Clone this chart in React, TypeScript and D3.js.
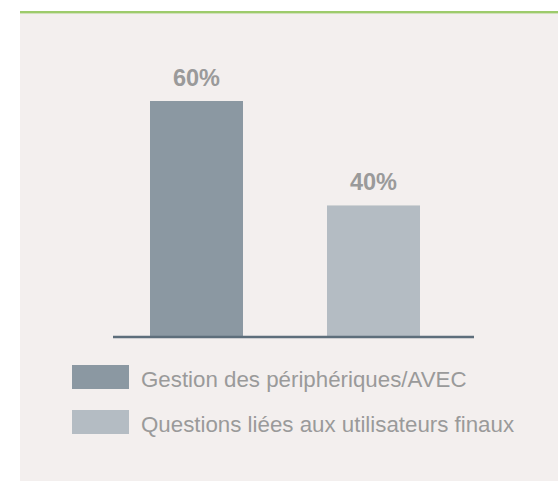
import React, { useEffect, useRef } from "react";
import { scaleBand, scaleLinear, select } from "d3";

// values
const categories = ["Gestion des périphériques/AVEC", "Questions liées aux utilisateurs finaux"];
const shares = [60, 40];
const barColors = ["#8b98a2", "#b4bcc3"];
const valueLabels = ["60%", "40%"];

const width = 558,
  height = 482;

export default function App() {
  const axisRef = useRef<SVGGElement | null>(null);

  const xScale = scaleBand<string>()
    .domain(categories)
    .range([114.6, 455.4])
    .paddingInner(0.4746)
    .paddingOuter(0.2);

  // the original axis does not start at zero
  const yScale = scaleLinear().domain([15, 60]).range([336, 101]);

  useEffect(() => {
    const g = select(axisRef.current);
    g.selectAll("*").remove();
    g.append("line")
      .attr("x1", 113)
      .attr("x2", 474)
      .attr("y1", yScale(15) + 1)
      .attr("y2", yScale(15) + 1)
      .attr("stroke", "#5d6e7b")
      .attr("stroke-width", 2.5);
  }, []);

  return (
    <svg
      width={width}
      height={height}
      style={{ position: "fixed", top: 0, left: 0, fontFamily: "'Liberation Sans', Arial, sans-serif" }}
    >
      <rect x={0} y={0} width={width} height={height} fill="#ffffff" />
      <rect x={20} y={12} width={width - 20} height={469} fill="#f3efee" />
      <rect x={20} y={11} width={width - 20} height={2.4} fill="#9dcb6b" />

      {categories.map((c, i) => (
        <g key={c}>
          <rect
            x={xScale(c)}
            y={yScale(shares[i])}
            width={xScale.bandwidth()}
            height={yScale(15) - yScale(shares[i])}
            fill={barColors[i]}
          />
          <text
            x={(xScale(c) ?? 0) + xScale.bandwidth() / 2}
            y={yScale(shares[i]) - 15}
            textAnchor="middle"
            fontSize={23.5}
            fontWeight="bold"
            fill="#9a9a9a"
          >
            {valueLabels[i]}
          </text>
        </g>
      ))}

      <g ref={axisRef} />

      {categories.map((c, i) => (
        <g key={"legend-" + c} transform={`translate(72, ${365 + i * 45})`}>
          <rect width={57} height={24} fill={barColors[i]} />
          <text x={69} y={22} fontSize={22.3} fill="#9a9a9a">
            {c}
          </text>
        </g>
      ))}
    </svg>
  );
}
